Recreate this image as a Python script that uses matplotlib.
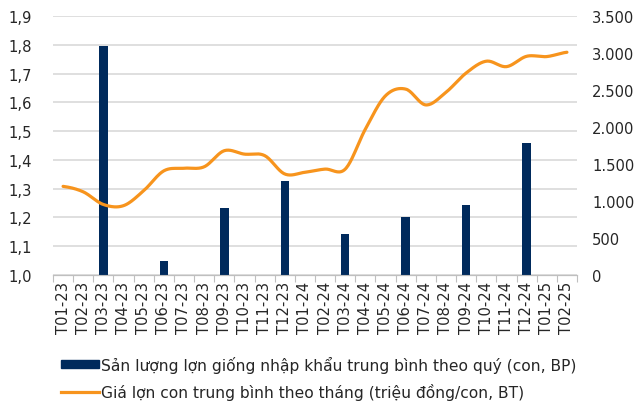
import numpy as np
import matplotlib
matplotlib.use('Agg')
import matplotlib.pyplot as plt
from matplotlib.patches import Patch
from matplotlib.lines import Line2D

plt.rcParams['font.family'] = ['DejaVu Sans']

months = ['T01-23', 'T02-23', 'T03-23', 'T04-23', 'T05-23', 'T06-23', 'T07-23', 'T08-23',
          'T09-23', 'T10-23', 'T11-23', 'T12-23', 'T01-24', 'T02-24', 'T03-24', 'T04-24',
          'T05-24', 'T06-24', 'T07-24', 'T08-24', 'T09-24', 'T10-24', 'T11-24', 'T12-24',
          'T01-25', 'T02-25']
# quarterly imports (head), right axis
import_months = ['T03-23', 'T06-23', 'T09-23', 'T12-23', 'T03-24', 'T06-24', 'T09-24', 'T12-24']
import_vals = [3090, 185, 900, 1265, 550, 780, 945, 1785]
# monthly piglet price (million VND/head), left axis
price = [1.308, 1.289, 1.245, 1.241, 1.293, 1.362, 1.371, 1.376, 1.432, 1.420, 1.415, 1.351,
         1.357, 1.368, 1.368, 1.507, 1.623, 1.646, 1.591, 1.635, 1.702, 1.743, 1.724, 1.760,
         1.759, 1.774]

bar_label = 'Sản lượng lợn giống nhập khẩu trung bình theo quý (con, BP)'
line_label = 'Giá lợn con trung bình theo tháng (triệu đồng/con, BT)'
navy = '#002A5C'
orange = '#F7941D'
txt = '#262626'
fs = 10.6


def catmull(y, n=20):
    y = np.asarray(y, float)
    p = np.concatenate([[y[0]], y, [y[-1]]])
    xs, ys = [], []
    for i in range(len(y) - 1):
        p0, p1, p2, p3 = p[i], p[i + 1], p[i + 2], p[i + 3]
        t = np.linspace(0, 1, n, endpoint=False)
        ys.append(0.5 * (2 * p1 + (-p0 + p2) * t + (2 * p0 - 5 * p1 + 4 * p2 - p3) * t ** 2
                         + (-p0 + 3 * p1 - 3 * p2 + p3) * t ** 3))
        xs.append(i + t)
    xs.append([len(y) - 1])
    ys.append([y[-1]])
    return np.concatenate(xs), np.concatenate(ys)


fig = plt.figure(figsize=(6.38, 4.10), dpi=100)
ax = fig.add_axes([53 / 638, 1 - 276 / 410, 524 / 638, 259 / 410])
ax2 = ax.twinx()

x = np.arange(len(months))
ax.set_xlim(-0.5, len(months) - 0.5)
ax.set_ylim(1.0, 1.9)
ax.set_yticks(np.arange(1.0, 1.91, 0.1))
ax.set_yticklabels([f'{v:.1f}'.replace('.', ',') for v in np.arange(1.0, 1.91, 0.1)])
ax.grid(axis='y', color='#D9D9D9', linewidth=1.2)
ax.set_axisbelow(True)

ax2.set_ylim(0, 3500)
ax2.set_yticks(np.arange(0, 3501, 500))
ax2.set_yticklabels([f'{v:,}'.replace(',', '.') for v in range(0, 3501, 500)])

bx = [months.index(m) for m in import_months]
ax2.bar(bx, import_vals, width=0.42, color=navy, zorder=2)
sx, sy = catmull(price)
ax2.plot(sx, sy, color=orange, linewidth=2.3, transform=ax.transData, zorder=3,
         solid_capstyle='round')
ax2.set_xlim(-0.5, len(months) - 0.5)
ax2.set_ylim(0, 3500)

for a in (ax, ax2):
    for s in ('top', 'left', 'right'):
        a.spines[s].set_visible(False)
    a.spines['bottom'].set_color('#BFBFBF')
    a.tick_params(axis='y', length=0, labelsize=fs, labelcolor=txt)
ax.tick_params(axis='y', pad=15)
ax2.tick_params(axis='y', pad=11)

ax.set_xticks(np.arange(-0.5, len(months), 1))
ax.set_xticklabels([])
ax.tick_params(axis='x', which='major', length=5, color='#BFBFBF', direction='out')
ax.set_xticks(x, minor=True)
ax.set_xticklabels(months, minor=True, rotation=90)
ax.tick_params(axis='x', which='minor', length=0, labelsize=fs, labelcolor=txt, pad=4)
ax2.tick_params(axis='x', length=0)

handles = [Patch(color=navy), Line2D([], [], color=orange, linewidth=2.3)]
fig.legend(handles, [bar_label, line_label], loc='upper left',
           bbox_to_anchor=(61 / 638, 1 - 357 / 410), frameon=False, fontsize=11.2,
           handlelength=2.45, handleheight=0.42, handletextpad=0.15, labelspacing=0.62,
           borderpad=0, borderaxespad=0, labelcolor=txt)

fig.savefig('out.png', dpi=100)
